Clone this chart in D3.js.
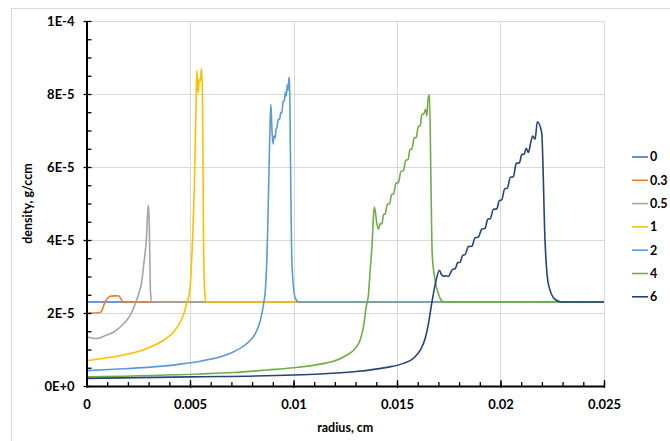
<!DOCTYPE html>
<html>
<head>
<meta charset="utf-8">
<script src="https://cdn.jsdelivr.net/npm/d3@7"></script>
<style>
  html, body { margin: 0; padding: 0; background: #fff; overflow: hidden; }
  svg { display: block; font-family: Lato, "Open Sans", sans-serif; }
</style>
</head>
<body>
<svg id="chart" width="670" height="441"></svg>
<script>
// Density profiles vs. radius, one curve per time label (legend order)
const seriesLabels = ["0", "0.3", "0.5", "1", "2", "4", "6"];
const seriesColors = ["#4472C4", "#ED7D31", "#A5A5A5", "#FFC000", "#5B9BD5", "#70AD47", "#264478"];

// [radius (cm), density (g/ccm)]
const profile0 = [[0, 2.3e-5], [0.025, 2.3e-5]];

const profile03 = [
  [0, 2.0e-5], [0.0004, 2.0e-5], [0.00068, 2.02e-5], [0.0009, 2.3e-5], [0.00112, 2.45e-5],
  [0.0013, 2.47e-5], [0.00155, 2.47e-5], [0.00165, 2.4e-5], [0.00177, 2.3e-5], [0.025, 2.3e-5]
];

const profile05 = [
  [0, 1.35e-5], [0.0003, 1.31e-5], [0.00052, 1.30e-5], [0.0009, 1.38e-5], [0.00132, 1.48e-5],
  [0.0018, 1.71e-5], [0.00212, 1.94e-5], [0.00236, 2.26e-5], [0.00252, 2.53e-5], [0.00265, 2.8e-5],
  [0.00277, 3.35e-5], [0.0029, 4.08e-5], [0.00298, 4.96e-5], [0.00303, 4.5e-5], [0.00309, 2.6e-5],
  [0.00314, 2.3e-5], [0.025, 2.3e-5]
];

const profile1 = [
  [0, 6.9e-6], [0.00132, 8.0e-6], [0.00212, 8.9e-6], [0.00293, 1.03e-5], [0.00373, 1.26e-5],
  [0.00421, 1.48e-5], [0.00454, 1.76e-5], [0.0047, 1.98e-5], [0.00486, 2.3e-5], [0.00499, 2.62e-5],
  [0.0051, 3.7e-5], [0.00521, 5.5e-5], [0.00529, 7.6e-5], [0.00533, 8.65e-5], [0.00539, 8.03e-5],
  [0.00545, 8.4e-5], [0.0055, 8.35e-5], [0.00555, 8.7e-5], [0.0056, 8.08e-5], [0.00566, 3.7e-5],
  [0.00572, 2.5e-5], [0.00579, 2.3e-5], [0.025, 2.3e-5]
];

const profile2 = [
  [0, 4.2e-6], [0.00132, 4.6e-6], [0.00293, 5.1e-6], [0.00454, 6.0e-6], [0.0055, 6.8e-6],
  [0.00647, 8.0e-6], [0.00711, 9.4e-6], [0.00776, 1.17e-5], [0.00816, 1.44e-5], [0.0084, 1.8e-5],
  [0.00856, 2.26e-5], [0.00864, 2.62e-5], [0.00872, 3.6e-5], [0.00877, 4.7e-5], [0.00884, 6.5e-5],
  [0.00888, 7.4e-5], [0.00891, 7.72e-5], [0.00896, 7.0e-5], [0.00901, 6.63e-5], [0.00906, 6.85e-5],
  [0.00912, 6.8e-5], [0.00916, 7.05e-5], [0.0092, 7.08e-5], [0.00926, 7.3e-5], [0.00933, 7.31e-5],
  [0.00939, 7.5e-5], [0.00944, 7.49e-5], [0.0095, 7.8e-5], [0.00956, 7.81e-5], [0.0096, 8.05e-5],
  [0.00965, 7.95e-5], [0.0097, 8.25e-5], [0.00974, 8.1e-5], [0.00978, 8.45e-5], [0.00981, 8.45e-5],
  [0.00985, 6.44e-5], [0.00993, 3.26e-5], [0.01009, 2.4e-5], [0.01025, 2.3e-5], [0.025, 2.3e-5]
];

const profile4 = [
  [0, 2.5e-6], [0.0055, 3.3e-6], [0.00711, 3.7e-6], [0.00872, 4.4e-6], [0.01, 5.0e-6],
  [0.01129, 6.0e-6], [0.0121, 7.1e-6], [0.01258, 8.5e-6], [0.0129, 9.8e-6], [0.01322, 1.26e-5],
  [0.01338, 1.62e-5], [0.01351, 2.16e-5], [0.01362, 2.5e-5], [0.01372, 3.3e-5], [0.01379, 3.8e-5],
  [0.01387, 4.71e-5], [0.01391, 4.9e-5], [0.01403, 4.44e-5], [0.01411, 4.3e-5], [0.01419, 4.45e-5],
  [0.01427, 4.44e-5], [0.01435, 4.7e-5], [0.01443, 4.71e-5], [0.01453, 4.98e-5], [0.01464, 4.99e-5],
  [0.01474, 5.25e-5], [0.01483, 5.26e-5], [0.01495, 5.55e-5], [0.01507, 5.58e-5], [0.01519, 5.88e-5],
  [0.01531, 5.9e-5], [0.01542, 6.18e-5], [0.01553, 6.2e-5], [0.01563, 6.48e-5], [0.01572, 6.49e-5],
  [0.01583, 6.8e-5], [0.01593, 6.81e-5], [0.01603, 7.12e-5], [0.01612, 7.13e-5], [0.0162, 7.44e-5],
  [0.01628, 7.45e-5], [0.01639, 7.58e-5], [0.01644, 7.4e-5], [0.01651, 7.9e-5], [0.01657, 7.97e-5],
  [0.01664, 5.62e-5], [0.0167, 3.62e-5], [0.01684, 2.89e-5], [0.017, 2.53e-5], [0.01717, 2.33e-5],
  [0.0173, 2.3e-5], [0.025, 2.3e-5]
];

const profile6 = [
  [0, 2.1e-6], [0.005, 2.5e-6], [0.01, 3.0e-6], [0.01129, 3.3e-6], [0.0129, 3.9e-6],
  [0.01451, 5.1e-6], [0.01531, 6.2e-6], [0.0158, 7.6e-6], [0.01612, 9.8e-6], [0.01636, 1.3e-5],
  [0.01652, 1.71e-5], [0.01665, 2.17e-5], [0.01676, 2.53e-5], [0.01689, 2.9e-5], [0.01705, 3.17e-5],
  [0.01715, 3.05e-5], [0.01725, 3.01e-5], [0.01737, 3.02e-5], [0.01749, 3.0e-5], [0.01757, 3.08e-5],
  [0.01769, 3.2e-5], [0.01781, 3.21e-5], [0.01793, 3.38e-5], [0.01805, 3.39e-5], [0.01817, 3.58e-5],
  [0.01829, 3.6e-5], [0.01845, 3.82e-5], [0.01862, 3.83e-5], [0.01877, 4.06e-5], [0.01893, 4.08e-5],
  [0.0191, 4.3e-5], [0.01926, 4.32e-5], [0.01938, 4.57e-5], [0.0195, 4.58e-5], [0.01966, 4.84e-5],
  [0.01982, 4.85e-5], [0.01994, 5.08e-5], [0.02006, 5.1e-5], [0.0202, 5.4e-5], [0.02033, 5.42e-5],
  [0.02048, 5.72e-5], [0.02062, 5.73e-5], [0.02076, 6.1e-5], [0.02091, 6.11e-5], [0.02103, 6.34e-5],
  [0.02114, 6.35e-5], [0.02124, 6.51e-5], [0.02135, 6.4e-5], [0.02146, 6.67e-5], [0.02156, 6.85e-5],
  [0.02167, 6.76e-5], [0.02178, 7.24e-5], [0.02199, 6.94e-5], [0.02215, 3.99e-5], [0.02231, 2.8e-5],
  [0.02264, 2.37e-5], [0.02296, 2.3e-5], [0.025, 2.3e-5]
];

const profiles = [profile0, profile03, profile05, profile1, profile2, profile4, profile6];

// Axis ticks
const xMajorTicks = [0, 0.005, 0.01, 0.015, 0.02, 0.025];
const xMinorTicks = d3.range(0, 26).map(i => i / 1000);
const yMajorTicks = [0, 2e-5, 4e-5, 6e-5, 8e-5, 1e-4];
const yMinorTicks = d3.range(0, 21).map(i => i * 5e-6);

const svg = d3.select("#chart");

const plot = { left: 86.5, right: 604, top: 21, bottom: 386 };
const x = d3.scaleLinear().domain([0, 0.025]).range([plot.left, plot.right]);
const y = d3.scaleLinear().domain([0, 1e-4]).range([plot.bottom, plot.top]);

// Chart frame
svg.append("rect")
  .attr("x", 11.5).attr("y", 8.5)
  .attr("width", 700).attr("height", 460)
  .attr("fill", "#fff").attr("stroke", "#d9d9d9").attr("stroke-width", 1);

// Gridlines
const grid = svg.append("g").attr("stroke", "#d9d9d9").attr("stroke-width", 1);
grid.selectAll("line.h").data(yMajorTicks.slice(1)).join("line")
  .attr("class", "h")
  .attr("x1", plot.left).attr("x2", plot.right)
  .attr("y1", d => Math.round(y(d)) + 0.5).attr("y2", d => Math.round(y(d)) + 0.5);
grid.selectAll("line.v").data(xMajorTicks.slice(1)).join("line")
  .attr("class", "v")
  .attr("x1", d => Math.round(x(d)) + 0.5).attr("x2", d => Math.round(x(d)) + 0.5)
  .attr("y1", plot.top).attr("y2", plot.bottom);

// Curves
const line = d3.line()
  .x(d => x(d[0]))
  .y(d => y(d[1]))
  .curve(d3.curveMonotoneX);

svg.append("g").selectAll("path").data(profiles).join("path")
  .attr("d", line)
  .attr("fill", "none")
  .attr("stroke", (d, i) => seriesColors[i])
  .attr("stroke-width", 1.6)
  .attr("stroke-linejoin", "round");

// Scientific tick format: 0E+0, 2E-5, 1E-4
function sciFormat(v) {
  if (v === 0) return "0E+0";
  const e = Math.floor(Math.log10(v) + 1e-9);
  const m = Math.round(v / Math.pow(10, e));
  return m + "E" + (e < 0 ? "-" : "+") + Math.abs(e);
}

// Minor ticks (inside)
svg.append("g")
  .attr("transform", `translate(${plot.left},0)`)
  .call(d3.axisLeft(y).tickValues(yMinorTicks).tickSize(-5).tickFormat(""))
  .call(g => g.select(".domain").remove())
  .call(g => g.selectAll("line").attr("stroke", "#000").attr("stroke-width", 1.3));
svg.append("g")
  .attr("transform", `translate(0,${plot.bottom})`)
  .call(d3.axisBottom(x).tickValues(xMinorTicks).tickSize(-4).tickFormat(""))
  .call(g => g.select(".domain").remove())
  .call(g => g.selectAll("line").attr("stroke", "#000").attr("stroke-width", 1.3));

// Major axes with labels
svg.append("g")
  .attr("transform", `translate(${plot.left},0)`)
  .call(d3.axisLeft(y).tickValues(yMajorTicks).tickFormat(sciFormat)
    .tickSizeInner(3).tickSizeOuter(0).tickPadding(9))
  .call(g => g.select(".domain").attr("stroke", "#000").attr("stroke-width", 2))
  .call(g => g.selectAll(".tick line").attr("stroke", "#000").attr("stroke-width", 1.3))
  .call(g => g.selectAll(".tick text")
    .attr("font-family", "Lato, 'Open Sans', sans-serif")
    .attr("font-size", 13).attr("font-weight", "bold").attr("fill", "#000"));

svg.append("g")
  .attr("transform", `translate(0,${plot.bottom})`)
  .call(d3.axisBottom(x).tickValues(xMajorTicks).tickFormat(d => d3.format("")(d))
    .tickSizeInner(2).tickSizeOuter(0).tickPadding(12))
  .call(g => g.select(".domain").attr("stroke", "#000").attr("stroke-width", 2))
  .call(g => g.selectAll(".tick line").attr("y1", -6).attr("stroke", "#000").attr("stroke-width", 1.3))
  .call(g => g.selectAll(".tick text")
    .attr("font-family", "Lato, 'Open Sans', sans-serif")
    .attr("font-size", 13).attr("font-weight", "bold").attr("fill", "#000"));

// Axis titles
svg.append("text")
  .attr("x", (plot.left + plot.right) / 2).attr("y", 432)
  .attr("text-anchor", "middle")
  .attr("font-size", 12.5).attr("font-weight", "bold")
  .text("radius, cm");

svg.append("text")
  .attr("transform", `translate(32,${(plot.top + plot.bottom) / 2}) rotate(-90)`)
  .attr("text-anchor", "middle")
  .attr("font-size", 12.5).attr("font-weight", "bold")
  .text("density, g/ccm");

// Legend, kept just inside the right edge
const legend = svg.append("g").attr("transform", "translate(632,157)");
const items = legend.selectAll("g").data(seriesLabels).join("g")
  .attr("transform", (d, i) => `translate(0,${i * 23.3})`);
items.append("line")
  .attr("x1", 0).attr("x2", 16).attr("y1", 0).attr("y2", 0)
  .attr("stroke", (d, i) => seriesColors[i]).attr("stroke-width", 1.6);
items.append("text")
  .attr("x", 18).attr("y", 0).attr("dy", "0.35em")
  .attr("font-size", 12.5).attr("font-weight", "bold")
  .text(d => d);
</script>
</body>
</html>
